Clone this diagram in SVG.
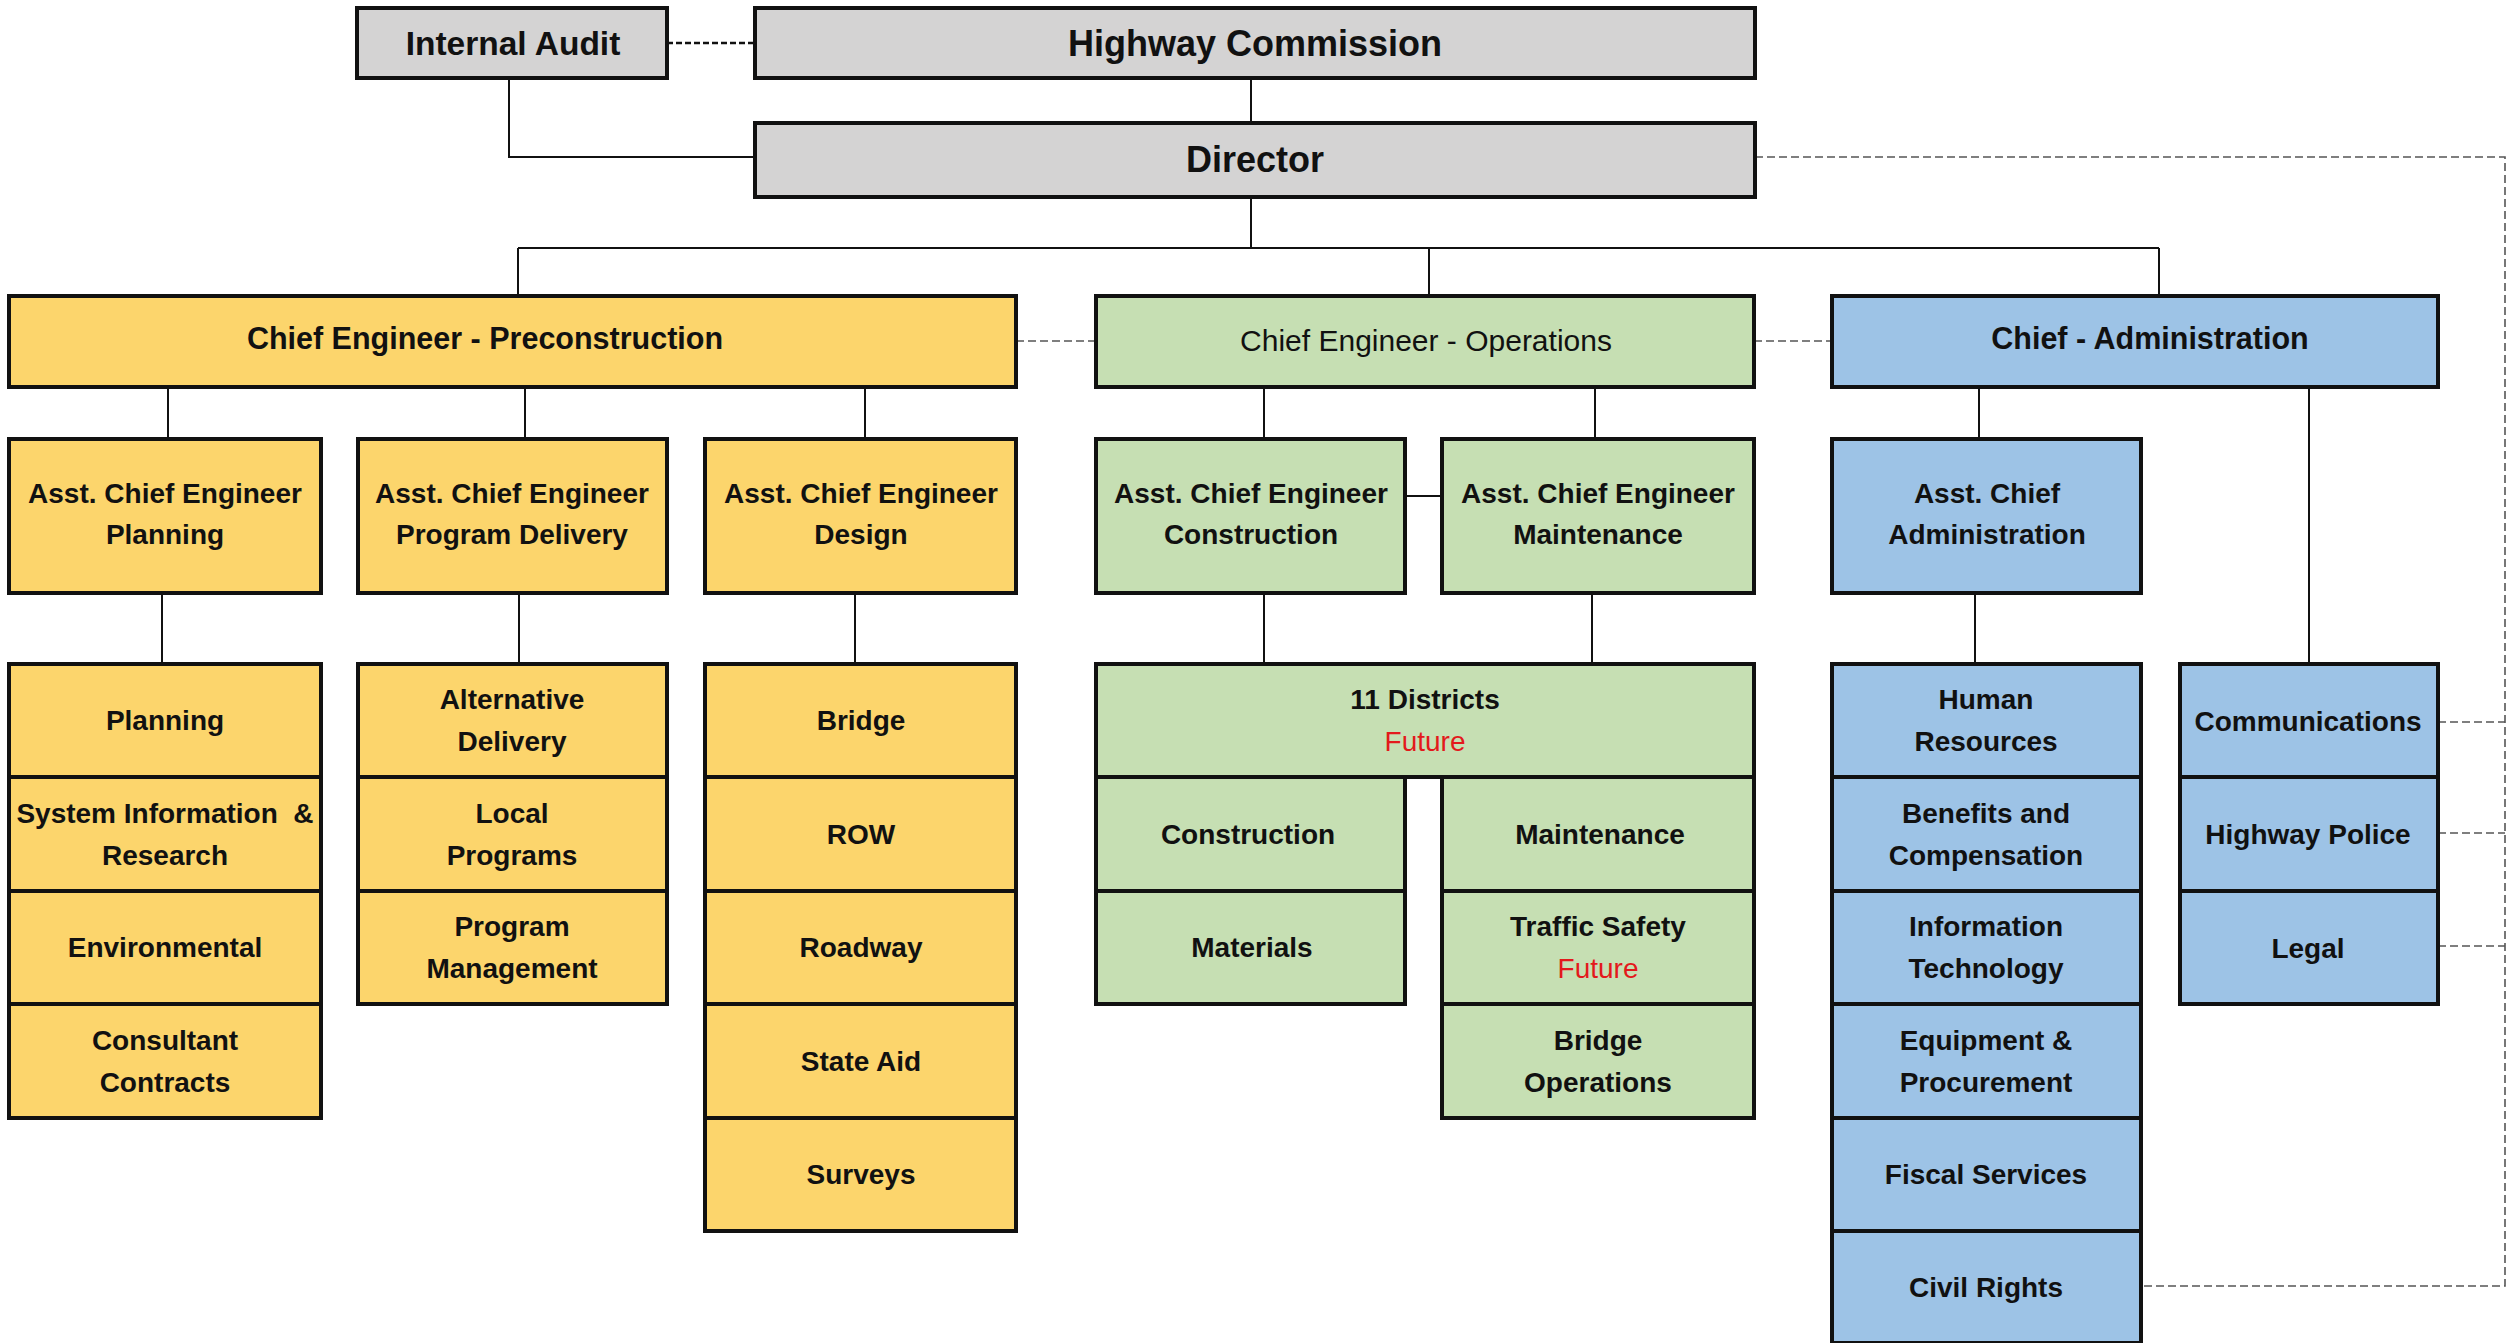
<svg xmlns="http://www.w3.org/2000/svg" width="2509" height="1343" viewBox="0 0 2509 1343">
<style>
.box{stroke:#111;stroke-width:4}
.g{fill:#D4D3D3}
.y{fill:#FCD56C}
.gr{fill:#C6DFB3}
.b{fill:#9DC3E6}
text{font-family:"Liberation Sans",Arial,sans-serif;font-weight:bold;fill:#111;text-anchor:middle}
.t28{font-size:28px}
.t30{font-size:30.5px}
.t36{font-size:36px}
.reg{font-weight:normal;font-size:30px}
.red{fill:#E3191C;font-weight:normal}
.ln{stroke:#111;stroke-width:2;fill:none}
.ds{stroke:#555;stroke-width:1.6;stroke-dasharray:8 4;fill:none}
.dk{stroke:#111;stroke-width:2.5;stroke-dasharray:6 3;fill:none}
</style>
<rect width="2509" height="1343" fill="#fff"/>
<g id="connectors">
<line class="dk" x1="667" y1="43" x2="755" y2="43"/>
<polyline class="ln" points="509,78 509,157 755,157"/>
<line class="ln" x1="1251" y1="78" x2="1251" y2="123"/>
<line class="ln" x1="1251" y1="197" x2="1251" y2="248"/>
<line class="ln" x1="518" y1="248" x2="2159" y2="248"/>
<line class="ln" x1="518" y1="248" x2="518" y2="296"/>
<line class="ln" x1="1429" y1="248" x2="1429" y2="296"/>
<line class="ln" x1="2159" y1="248" x2="2159" y2="296"/>
<line class="ln" x1="168" y1="388" x2="168" y2="439"/>
<line class="ln" x1="525" y1="388" x2="525" y2="439"/>
<line class="ln" x1="865" y1="388" x2="865" y2="439"/>
<line class="ln" x1="162" y1="593" x2="162" y2="664"/>
<line class="ln" x1="519" y1="593" x2="519" y2="664"/>
<line class="ln" x1="855" y1="593" x2="855" y2="664"/>
<line class="ln" x1="1264" y1="388" x2="1264" y2="439"/>
<line class="ln" x1="1595" y1="388" x2="1595" y2="439"/>
<line class="ln" x1="1405" y1="496" x2="1442" y2="496"/>
<line class="ln" x1="1264" y1="593" x2="1264" y2="664"/>
<line class="ln" x1="1592" y1="593" x2="1592" y2="664"/>
<line class="ln" x1="1979" y1="388" x2="1979" y2="439"/>
<line class="ln" x1="1975" y1="593" x2="1975" y2="664"/>
<line class="ln" x1="2309" y1="388" x2="2309" y2="664"/>
<line class="ds" x1="1016" y1="341" x2="1096" y2="341"/>
<line class="ds" x1="1754" y1="341" x2="1832" y2="341"/>
<polyline class="ds" points="1755,157 2505,157 2505,1286 2141,1286"/>
<line class="ds" x1="2438" y1="722" x2="2505" y2="722"/>
<line class="ds" x1="2438" y1="833" x2="2505" y2="833"/>
<line class="ds" x1="2438" y1="946" x2="2505" y2="946"/>
</g>
<g id="internal-audit"><rect class="box g" x="357" y="8" width="310" height="70"/><text x="513" y="55" style="font-size:33.5px">Internal Audit</text></g>
<g id="highway-commission"><rect class="box g" x="755" y="8" width="1000" height="70"/><text class="t36" x="1255" y="56">Highway Commission</text></g>
<g id="director"><rect class="box g" x="755" y="123" width="1000" height="74"/><text class="t36" x="1255" y="172">Director</text></g>
<g id="ce-precon"><rect class="box y" x="9" y="296" width="1007" height="91"/><text class="t30" x="485" y="349">Chief Engineer - Preconstruction</text></g>
<g id="ce-ops"><rect class="box gr" x="1096" y="296" width="658" height="91"/><text class="reg" x="1426" y="351">Chief Engineer - Operations</text></g>
<g id="chief-admin"><rect class="box b" x="1832" y="296" width="606" height="91"/><text class="t30" x="2150" y="349">Chief - Administration</text></g>
<g id="ace-planning"><rect class="box y" x="9" y="439" width="312" height="154"/><text class="t28" x="165" y="503">Asst. Chief Engineer</text><text class="t28" x="165" y="544">Planning</text></g>
<g id="ace-program-delivery"><rect class="box y" x="358" y="439" width="309" height="154"/><text class="t28" x="512" y="503">Asst. Chief Engineer</text><text class="t28" x="512" y="544">Program Delivery</text></g>
<g id="ace-design"><rect class="box y" x="705" y="439" width="311" height="154"/><text class="t28" x="861" y="503">Asst. Chief Engineer</text><text class="t28" x="861" y="544">Design</text></g>
<g id="ace-construction"><rect class="box gr" x="1096" y="439" width="309" height="154"/><text class="t28" x="1251" y="503">Asst. Chief Engineer</text><text class="t28" x="1251" y="544">Construction</text></g>
<g id="ace-maintenance"><rect class="box gr" x="1442" y="439" width="312" height="154"/><text class="t28" x="1598" y="503">Asst. Chief Engineer</text><text class="t28" x="1598" y="544">Maintenance</text></g>
<g id="ac-administration"><rect class="box b" x="1832" y="439" width="309" height="154"/><text class="t28" x="1987" y="503">Asst. Chief</text><text class="t28" x="1987" y="544">Administration</text></g>
<g id="planning"><rect class="box y" x="9" y="664" width="312" height="113"/><text class="t28" x="165" y="730">Planning</text></g>
<g id="system-info"><rect class="box y" x="9" y="777" width="312" height="114"/><text class="t28" x="165" y="823" style="white-space:pre">System Information  &amp;</text><text class="t28" x="165" y="865">Research</text></g>
<g id="environmental"><rect class="box y" x="9" y="891" width="312" height="113"/><text class="t28" x="165" y="957">Environmental</text></g>
<g id="consultant-contracts"><rect class="box y" x="9" y="1004" width="312" height="114"/><text class="t28" x="165" y="1050">Consultant</text><text class="t28" x="165" y="1092">Contracts</text></g>
<g id="alternative-delivery"><rect class="box y" x="358" y="664" width="309" height="113"/><text class="t28" x="512" y="709">Alternative</text><text class="t28" x="512" y="751">Delivery</text></g>
<g id="local-programs"><rect class="box y" x="358" y="777" width="309" height="114"/><text class="t28" x="512" y="823">Local</text><text class="t28" x="512" y="865">Programs</text></g>
<g id="program-management"><rect class="box y" x="358" y="891" width="309" height="113"/><text class="t28" x="512" y="936">Program</text><text class="t28" x="512" y="978">Management</text></g>
<g id="bridge"><rect class="box y" x="705" y="664" width="311" height="113"/><text class="t28" x="861" y="730">Bridge</text></g>
<g id="row"><rect class="box y" x="705" y="777" width="311" height="114"/><text class="t28" x="861" y="844">ROW</text></g>
<g id="roadway"><rect class="box y" x="705" y="891" width="311" height="113"/><text class="t28" x="861" y="957">Roadway</text></g>
<g id="state-aid"><rect class="box y" x="705" y="1004" width="311" height="114"/><text class="t28" x="861" y="1071">State Aid</text></g>
<g id="surveys"><rect class="box y" x="705" y="1118" width="311" height="113"/><text class="t28" x="861" y="1184">Surveys</text></g>
<g id="districts"><rect class="box gr" x="1096" y="664" width="658" height="113"/><text class="t28" x="1425" y="709">11 Districts</text><text class="t28 red" x="1425" y="751">Future</text></g>
<g id="construction"><rect class="box gr" x="1096" y="777" width="309" height="114"/><text class="t28" x="1248" y="844">Construction</text></g>
<g id="materials"><rect class="box gr" x="1096" y="891" width="309" height="113"/><text class="t28" x="1252" y="957">Materials</text></g>
<g id="maintenance"><rect class="box gr" x="1442" y="777" width="312" height="114"/><text class="t28" x="1600" y="844">Maintenance</text></g>
<g id="traffic-safety"><rect class="box gr" x="1442" y="891" width="312" height="113"/><text class="t28" x="1598" y="936">Traffic Safety</text><text class="t28 red" x="1598" y="978">Future</text></g>
<g id="bridge-operations"><rect class="box gr" x="1442" y="1004" width="312" height="114"/><text class="t28" x="1598" y="1050">Bridge</text><text class="t28" x="1598" y="1092">Operations</text></g>
<g id="human-resources"><rect class="box b" x="1832" y="664" width="309" height="113"/><text class="t28" x="1986" y="709">Human</text><text class="t28" x="1986" y="751">Resources</text></g>
<g id="benefits"><rect class="box b" x="1832" y="777" width="309" height="114"/><text class="t28" x="1986" y="823">Benefits and</text><text class="t28" x="1986" y="865">Compensation</text></g>
<g id="it"><rect class="box b" x="1832" y="891" width="309" height="113"/><text class="t28" x="1986" y="936">Information</text><text class="t28" x="1986" y="978">Technology</text></g>
<g id="equipment"><rect class="box b" x="1832" y="1004" width="309" height="114"/><text class="t28" x="1986" y="1050">Equipment &amp;</text><text class="t28" x="1986" y="1092">Procurement</text></g>
<g id="fiscal"><rect class="box b" x="1832" y="1118" width="309" height="113"/><text class="t28" x="1986" y="1184">Fiscal Services</text></g>
<g id="civil-rights"><rect class="box b" x="1832" y="1231" width="309" height="112"/><text class="t28" x="1986" y="1297">Civil Rights</text></g>
<g id="communications"><rect class="box b" x="2180" y="664" width="258" height="113"/><text class="t28" x="2308" y="731">Communications</text></g>
<g id="highway-police"><rect class="box b" x="2180" y="777" width="258" height="114"/><text class="t28" x="2308" y="844">Highway Police</text></g>
<g id="legal"><rect class="box b" x="2180" y="891" width="258" height="113"/><text class="t28" x="2308" y="958">Legal</text></g>
</svg>
